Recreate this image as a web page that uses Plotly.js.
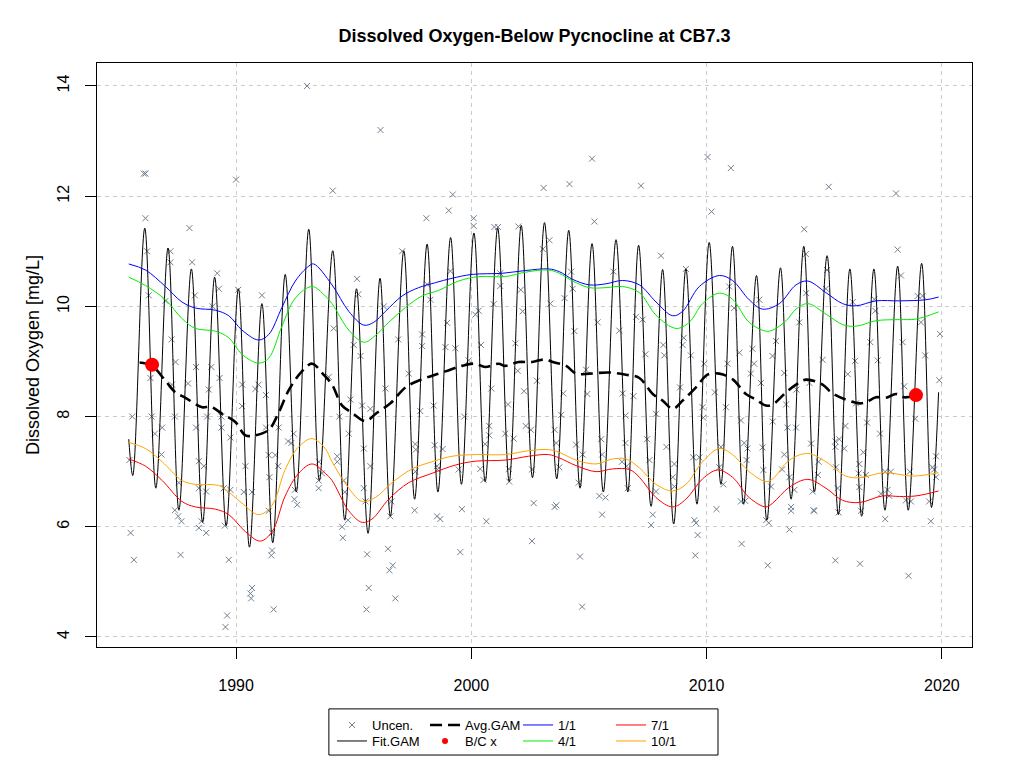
<!DOCTYPE html>
<html>
<head>
<meta charset="utf-8">
<script src="https://cdn.plot.ly/plotly-3.0.1.min.js"></script>
<style>
  body { margin: 0; background: #fff; }
  #chart { width: 1024px; height: 768px; }
</style>
</head>
<body>
<div id="chart"></div>
<script>
// Fit.GAM: seasonal extremes (spline drawn by plotly)
const fitYear = [1985.44, 1985.61, 1986.12, 1986.59, 1987.11, 1987.57, 1988.10, 1988.58, 1989.09, 1989.58,
  1990.10, 1990.57, 1991.10, 1991.56, 1992.09, 1992.56, 1993.09, 1993.54, 1994.11, 1994.62,
  1995.12, 1995.61, 1996.12, 1996.56, 1997.13, 1997.59, 1998.12, 1998.58, 1999.12, 1999.58,
  2000.11, 2000.59, 2001.12, 2001.61, 2002.12, 2002.60, 2003.11, 2003.63, 2004.14, 2004.62,
  2005.13, 2005.61, 2006.15, 2006.65, 2007.11, 2007.64, 2008.13, 2008.60, 2009.12, 2009.59,
  2010.11, 2010.61, 2011.10, 2011.57, 2012.12, 2012.56, 2013.14, 2013.59, 2014.13, 2014.58,
  2015.12, 2015.60, 2016.09, 2016.59, 2017.11, 2017.58, 2018.12, 2018.57, 2019.14, 2019.56, 2019.86];
const fitDO = [7.59, 6.93, 11.42, 6.70, 11.06, 6.30, 10.68, 6.08, 10.53, 6.02,
  10.32, 5.63, 10.05, 5.71, 10.58, 6.63, 11.40, 6.84, 11.01, 6.12,
  10.32, 5.88, 10.51, 6.19, 11.01, 6.50, 11.13, 6.63, 11.25, 6.77,
  11.33, 6.82, 11.42, 6.82, 11.47, 6.89, 11.52, 6.87, 11.38, 6.70,
  11.14, 6.63, 11.21, 6.63, 11.11, 6.37, 10.67, 6.05, 10.68, 6.41,
  11.16, 6.77, 11.09, 6.41, 10.56, 6.12, 10.70, 6.50, 11.09, 6.63,
  10.92, 6.22, 10.68, 6.19, 10.68, 6.30, 10.73, 6.30, 10.78, 6.35, 8.44];

const avgYear = [1985.90, 1986.43, 1987.00, 1987.42, 1987.85, 1988.56, 1988.91, 1989.41, 1989.97, 1990.40,
  1990.82, 1991.39, 1991.81, 1992.24, 1992.80, 1993.23, 1993.70, 1994.08, 1994.51, 1994.93,
  1995.50, 1995.99, 1996.56, 1997.20, 1997.91, 1998.40, 1998.90, 1999.60, 2000.17, 2000.59,
  2001.16, 2001.44, 2002.01, 2002.58, 2003.14, 2003.46, 2004.03, 2004.45, 2005.02, 2005.87,
  2006.57, 2007.14, 2007.71, 2008.13, 2008.56, 2008.98, 2009.55, 2010.04, 2010.54, 2011.10,
  2011.67, 2012.09, 2012.52, 2012.81, 2013.38, 2013.80, 2014.23, 2014.93, 2015.29, 2015.85,
  2016.49, 2016.77, 2017.20, 2017.62, 2018.05, 2018.40, 2018.90];
const avgDO = [8.98, 8.92, 8.65, 8.44, 8.34, 8.17, 8.18, 8.05, 7.90, 7.66,
  7.66, 7.76, 8.07, 8.48, 8.82, 8.96, 8.77, 8.58, 8.20, 8.07,
  7.92, 8.07, 8.24, 8.53, 8.68, 8.75, 8.82, 8.92, 8.96, 8.90,
  8.96, 8.92, 8.99, 8.99, 9.04, 8.99, 8.92, 8.78, 8.78, 8.80,
  8.76, 8.70, 8.41, 8.29, 8.14, 8.29, 8.53, 8.76, 8.78, 8.68,
  8.41, 8.31, 8.20, 8.22, 8.44, 8.58, 8.67, 8.58, 8.44, 8.32,
  8.24, 8.26, 8.35, 8.34, 8.41, 8.35, 8.39];

const jan1Year = [1985.44, 1986.15, 1987.00, 1987.70, 1988.27, 1989.12, 1989.69, 1990.25, 1990.96, 1991.39,
  1991.95, 1992.52, 1993.09, 1993.30, 1994.08, 1994.79, 1995.43, 1995.85, 1996.35, 1997.06,
  1997.76, 1998.47, 1999.18, 2000.03, 2001.30, 2002.29, 2003.28, 2003.74, 2004.31, 2005.02,
  2005.73, 2006.43, 2007.14, 2007.85, 2008.56, 2008.98, 2009.69, 2010.54, 2011.10, 2011.81,
  2012.38, 2013.09, 2013.80, 2014.30, 2015.07, 2015.78, 2016.35, 2017.20, 2018.19, 2019.32, 2019.86];
const jan1DO = [10.77, 10.66, 10.36, 10.08, 9.97, 9.93, 9.83, 9.57, 9.39, 9.49,
  9.98, 10.46, 10.73, 10.77, 10.39, 9.91, 9.66, 9.71, 9.91, 10.19,
  10.34, 10.43, 10.51, 10.58, 10.60, 10.65, 10.68, 10.63, 10.49, 10.39,
  10.41, 10.47, 10.39, 10.08, 9.83, 9.91, 10.36, 10.56, 10.47, 10.12,
  9.95, 10.05, 10.39, 10.46, 10.25, 10.05, 10.01, 10.10, 10.10, 10.12, 10.17];

const apr1Year = [1985.44, 1986.15, 1987.00, 1987.70, 1988.27, 1989.12, 1989.69, 1990.25, 1990.96, 1991.39,
  1991.95, 1992.52, 1993.23, 1993.79, 1994.08, 1994.79, 1995.43, 1995.92, 1996.49, 1997.20,
  1997.91, 1998.61, 1999.46, 2000.31, 2001.44, 2002.29, 2003.28, 2003.74, 2004.31, 2005.02,
  2005.73, 2006.43, 2007.14, 2007.85, 2008.70, 2009.26, 2009.83, 2010.54, 2011.10, 2011.81,
  2012.52, 2012.81, 2013.38, 2013.80, 2014.30, 2015.07, 2015.78, 2016.35, 2017.20, 2018.19, 2018.90, 2019.86];
const apr1DO = [10.53, 10.38, 10.12, 9.78, 9.60, 9.55, 9.43, 9.13, 8.97, 9.06,
  9.64, 10.15, 10.36, 10.19, 10.05, 9.57, 9.35, 9.47, 9.71, 9.98,
  10.19, 10.29, 10.46, 10.54, 10.54, 10.62, 10.66, 10.60, 10.46, 10.34,
  10.34, 10.36, 10.25, 9.84, 9.60, 9.71, 10.05, 10.24, 10.13, 9.71,
  9.55, 9.57, 9.74, 9.95, 10.05, 9.86, 9.67, 9.64, 9.74, 9.76, 9.77, 9.90];

const jul1Year = [1985.44, 1986.15, 1986.86, 1987.70, 1988.27, 1989.12, 1989.69, 1990.40, 1991.03, 1991.53,
  1992.09, 1992.66, 1993.23, 1993.79, 1994.08, 1994.79, 1995.36, 1995.78, 1996.49, 1997.34,
  1998.33, 1999.32, 2000.17, 2001.44, 2002.43, 2003.28, 2003.74, 2004.45, 2005.30, 2006.00,
  2006.72, 2007.14, 2007.85, 2008.56, 2009.12, 2009.83, 2010.47, 2011.10, 2011.81, 2012.52,
  2012.81, 2013.52, 2014.30, 2015.07, 2015.78, 2016.49, 2017.48, 2018.19, 2018.90, 2019.86];
const jul1DO = [7.23, 7.10, 6.84, 6.46, 6.36, 6.32, 6.22, 5.91, 5.74, 5.91,
  6.56, 6.97, 7.14, 6.97, 6.84, 6.29, 6.08, 6.14, 6.50, 6.80,
  6.97, 7.12, 7.19, 7.21, 7.28, 7.31, 7.25, 7.11, 7.00, 7.05,
  7.04, 6.90, 6.53, 6.36, 6.50, 6.87, 7.03, 6.90, 6.53, 6.36,
  6.43, 6.72, 6.86, 6.70, 6.48, 6.44, 6.56, 6.55, 6.56, 6.65];

const oct1Year = [1985.44, 1986.15, 1986.86, 1987.70, 1988.27, 1989.26, 1989.69, 1990.25, 1990.96, 1991.53,
  1992.09, 1992.66, 1993.23, 1993.79, 1994.08, 1994.79, 1995.36, 1995.92, 1996.63, 1997.48,
  1998.33, 1999.18, 2000.17, 2001.44, 2002.43, 2003.28, 2003.74, 2004.45, 2005.30, 2006.00,
  2006.57, 2007.14, 2007.85, 2008.56, 2009.12, 2009.83, 2010.54, 2011.10, 2011.81, 2012.52,
  2012.81, 2013.52, 2014.30, 2015.07, 2015.92, 2016.49, 2017.48, 2017.91, 2018.75, 2019.86];
const oct1DO = [7.53, 7.42, 7.18, 6.84, 6.77, 6.75, 6.63, 6.43, 6.22, 6.39,
  7.04, 7.45, 7.60, 7.42, 7.18, 6.70, 6.46, 6.53, 6.80, 7.05,
  7.18, 7.28, 7.31, 7.31, 7.38, 7.40, 7.35, 7.21, 7.14, 7.23,
  7.23, 7.07, 6.77, 6.65, 6.77, 7.18, 7.42, 7.31, 7.00, 6.82,
  6.87, 7.21, 7.33, 7.18, 6.92, 6.89, 6.98, 6.97, 6.92, 6.98];

// uncensored observations
const uncenYear = [
  1993.02, 1986.08, 1986.15, 1990.00, 1986.15, 1988.02, 1986.22, 1987.21, 1987.21, 1988.13,
  1989.20, 1986.29, 1989.27, 1990.09, 1991.10, 1987.00, 1988.25, 1989.00, 1987.26, 1987.43,
  1988.30, 1988.95, 1986.36, 1987.28, 1987.96, 1988.84, 1989.30, 1990.26, 1990.96, 1985.59,
  1986.41, 1987.40, 1988.77, 1989.38, 1990.26, 1990.82, 1991.27, 1988.30, 1986.86, 1989.38,
  1986.55, 1989.76, 1991.27, 1991.81, 1985.47, 1986.83, 1988.42, 1988.63, 1990.40, 1991.39,
  1991.67, 1991.79, 1992.21, 1992.45, 1992.35, 1991.42, 1987.57, 1988.42, 1988.73, 1989.76,
  1989.48, 1990.33, 1990.68, 1992.50, 1992.48, 1992.60, 1993.51, 1993.51, 1993.65, 1987.40,
  1987.54, 1987.68, 1988.53, 1988.42, 1988.73, 1989.52, 1991.39, 1991.53, 1985.52, 1985.66,
  1987.64, 1989.69, 1991.53, 1991.50, 1990.68, 1990.61, 1990.64, 1991.60, 1989.62, 1989.55,
  1996.14, 1994.11, 1999.21, 2003.07, 1999.04, 1998.09, 2000.10, 2000.10, 2000.98, 2001.13,
  2002.00, 1997.06, 1995.14, 1999.11, 2001.23, 2001.23, 2002.10, 1995.20, 1998.12, 1998.26,
  1996.28, 2000.31, 2000.17, 2000.95, 2002.18, 1994.15, 1995.00, 1995.29, 1996.89, 1997.91,
  1997.91, 1998.97, 1998.90, 1999.32, 2000.41, 2001.87, 1997.34, 1993.94, 1999.89, 2001.97,
  2002.79, 2000.85, 2002.24, 1996.35, 1994.86, 1995.36, 1995.71, 1998.40, 1997.83, 2001.56,
  1994.39, 1999.70, 1994.79, 2000.76, 2000.76, 2002.31, 2002.53, 2001.44, 2001.80, 1995.43,
  1995.71, 1997.62, 1997.64, 1998.44, 1998.78, 1994.30, 1994.30, 1993.52, 1997.62, 1998.54,
  1998.56, 1999.46, 2000.59, 2000.38, 2000.52, 2001.59, 2001.61, 2002.58, 1994.58, 1994.62,
  1995.43, 1995.50, 1996.60, 1996.56, 1997.59, 1998.54, 1998.68, 1999.60, 2002.65, 1994.76,
  1994.51, 1994.54, 2000.64, 1995.57, 1996.46, 1996.66, 1996.52, 1999.53, 2002.58, 1995.64,
  1996.77, 1995.54,
  2010.04, 2005.13, 2011.03, 2004.17, 2007.21, 2010.21, 2005.23, 2003.04, 2003.32, 2008.06,
  2009.12, 2004.24, 2004.31, 2006.04, 2003.96, 2003.36, 2010.96, 2011.17, 2005.37, 2004.38,
  2006.29, 2007.00, 2007.28, 2008.16, 2008.20, 2008.98, 2009.03, 2009.33, 2007.40, 2011.39,
  2011.95, 2012.02, 2011.88, 2010.89, 2009.90, 2004.88, 2003.91, 2004.93, 2006.43, 2006.89,
  2008.87, 2010.35, 2009.83, 2010.82, 2003.82, 2006.55, 2007.85, 2009.86, 2011.46, 2003.54,
  2003.61, 2005.52, 2005.56, 2007.47, 2006.55, 2008.29, 2011.60, 2011.74, 2011.70, 2004.45,
  2004.73, 2006.40, 2006.60, 2007.57, 2008.63, 2008.56, 2008.63, 2009.43, 2009.69, 2010.61,
  2010.54, 2010.71, 2003.74, 2004.56, 2005.44, 2005.70, 2006.65, 2007.85, 2009.48, 2009.55,
  2003.54, 2003.61, 2005.56, 2007.71, 2007.64, 2010.42, 2011.46, 2011.64, 2009.62, 2009.52,
  2011.49, 2004.62, 2004.71,
  2015.19, 2018.05, 2014.15, 2018.12, 2014.22, 2015.12, 2015.07, 2018.26, 2012.24, 2016.21,
  2017.13, 2017.17, 2014.23, 2018.97, 2019.18, 2019.11, 2013.94, 2019.92, 2012.95, 2016.96,
  2018.33, 2012.80, 2014.93, 2019.29, 2016.31, 2017.27, 2013.30, 2016.00, 2019.89, 2014.37,
  2012.31, 2018.40, 2013.82, 2013.38, 2016.35, 2012.81, 2018.87, 2013.44, 2013.80, 2015.90,
  2016.82, 2017.37, 2012.38, 2014.44, 2015.47, 2015.64, 2015.47, 2015.85, 2016.66, 2019.75,
  2013.30, 2013.21, 2014.76, 2014.73, 2015.50, 2016.49, 2016.46, 2016.77, 2017.59, 2017.83,
  2018.64, 2019.60, 2019.75, 2019.67, 2012.41, 2012.74, 2013.52, 2013.73, 2014.51, 2015.57,
  2016.49, 2017.41, 2017.69, 2017.76, 2018.47, 2018.68, 2019.46, 2013.59, 2013.59, 2014.54,
  2014.58, 2015.61, 2016.56, 2012.53, 2012.64, 2017.59, 2019.53, 2013.52, 2012.60, 2015.47,
  2016.52, 2018.58];
const uncenDO = [
  14.00, 12.41, 12.41, 12.30, 11.60, 11.42, 11.00, 11.00, 10.80, 10.80,
  10.60, 10.20, 10.32, 10.30, 10.20, 10.10, 10.20, 10.00, 9.40, 8.99,
  8.90, 8.90, 8.70, 8.58, 8.60, 8.49, 8.70, 8.58, 8.58, 8.00,
  8.00, 8.00, 8.00, 8.00, 8.19, 8.50, 8.39, 7.80, 7.80, 7.80,
  7.69, 7.62, 7.80, 7.80, 7.21, 7.31, 7.19, 7.10, 7.10, 7.30,
  7.30, 7.10, 7.55, 7.69, 7.52, 6.90, 6.80, 6.70, 6.64, 6.67,
  6.70, 6.63, 6.63, 6.67, 6.50, 6.40, 6.84, 6.70, 6.97, 6.30,
  6.19, 6.10, 6.10, 5.98, 5.89, 6.02, 6.29, 5.89, 5.89, 5.40,
  5.49, 5.40, 5.57, 5.48, 4.89, 4.79, 4.70, 4.50, 4.39, 4.18,
  13.20, 12.10, 12.03, 12.15, 11.74, 11.60, 11.60, 11.46, 11.44, 11.44,
  11.45, 11.00, 10.50, 10.64, 10.60, 10.37, 10.30, 10.22, 10.40, 10.12,
  10.00, 9.92, 9.85, 10.04, 9.91, 9.60, 9.30, 9.10, 9.40, 9.49,
  9.28, 9.70, 9.26, 9.24, 9.30, 9.33, 8.78, 8.72, 9.02, 8.83,
  8.65, 8.51, 8.46, 8.51, 8.31, 8.20, 8.14, 8.20, 8.10, 8.22,
  8.00, 8.00, 7.69, 7.83, 7.66, 7.83, 7.76, 7.69, 7.60, 7.42,
  7.10, 7.50, 7.40, 7.48, 7.41, 7.28, 7.18, 7.18, 7.00, 7.10,
  7.04, 7.04, 7.50, 7.05, 6.85, 7.05, 6.82, 7.04, 6.84, 6.63,
  6.70, 6.46, 6.46, 6.19, 6.30, 6.19, 6.14, 6.32, 6.43, 6.12,
  6.00, 5.80, 6.10, 5.50, 5.60, 5.30, 5.21, 5.54, 5.74, 4.89,
  4.70, 4.50,
  12.71, 12.68, 12.51, 12.22, 12.19, 11.72, 11.54, 11.04, 11.20, 10.92,
  10.68, 10.63, 10.32, 10.63, 10.15, 10.05, 10.36, 9.97, 9.71, 9.55,
  9.56, 9.81, 9.76, 9.30, 9.11, 9.30, 9.43, 9.11, 9.13, 9.16,
  9.23, 8.96, 8.78, 8.96, 8.96, 8.85, 8.42, 8.41, 8.42, 8.37,
  8.53, 8.44, 8.17, 8.17, 8.03, 8.02, 8.05, 7.98, 7.93, 7.76,
  7.52, 7.59, 7.31, 7.59, 7.52, 7.45, 7.52, 7.42, 7.21, 7.49,
  7.31, 7.18, 7.10, 7.21, 7.14, 6.90, 6.73, 7.26, 7.26, 7.45,
  7.08, 6.77, 7.08, 6.80, 6.56, 6.53, 6.70, 6.64, 6.12, 6.07,
  6.36, 6.39, 6.22, 6.22, 6.03, 6.32, 6.46, 6.47, 5.85, 5.48,
  5.69, 5.46, 4.55,
  12.17, 12.05, 11.40, 11.03, 10.95, 10.66, 10.32, 10.56, 10.12, 10.08,
  10.13, 9.92, 10.24, 10.19, 10.19, 9.71, 9.71, 9.50, 9.37, 9.35,
  9.35, 9.10, 9.03, 9.11, 9.01, 9.02, 8.79, 8.77, 8.66, 8.61,
  8.61, 8.55, 8.49, 8.22, 8.24, 7.91, 7.96, 7.80, 7.80, 7.83,
  7.89, 7.69, 7.44, 7.51, 7.55, 7.59, 7.45, 7.42, 7.35, 7.28,
  7.31, 7.04, 7.18, 6.94, 7.08, 7.14, 6.97, 6.94, 7.00, 7.00,
  7.00, 7.08, 6.90, 7.04, 7.03, 6.73, 6.90, 6.67, 6.64, 6.70,
  6.72, 6.60, 6.67, 6.56, 6.48, 6.46, 6.46, 6.36, 6.29, 6.30,
  6.29, 6.26, 6.29, 6.12, 6.07, 6.14, 6.10, 5.95, 5.30, 5.39,
  5.33, 5.11];

const bcYear = [1986.43, 2018.90];
const bcDO = [8.94, 8.39];

const FONT = 'Liberation Sans, Arial, sans-serif';

const traces = [
  {
    x: uncenYear, y: uncenDO, type: 'scatter', mode: 'markers', name: 'Uncen.',
    marker: { symbol: 'x-thin', size: 6, color: '#708090', line: { color: '#708090', width: 1 } },
    legend: 'legend', legendrank: 1
  },
  {
    x: fitYear, y: fitDO, type: 'scatter', mode: 'lines', name: 'Fit.GAM',
    line: { color: '#000', width: 1, shape: 'spline' },
    legend: 'legend2', legendrank: 1
  },
  {
    x: avgYear, y: avgDO, type: 'scatter', mode: 'lines', name: 'Avg.GAM',
    line: { color: '#000', width: 2.6, dash: '12px,6px', shape: 'spline' },
    legend: 'legend', legendrank: 2
  },
  {
    x: jan1Year, y: jan1DO, type: 'scatter', mode: 'lines', name: '1/1',
    line: { color: '#0000ff', width: 1, shape: 'spline' },
    legend: 'legend', legendrank: 3
  },
  {
    x: apr1Year, y: apr1DO, type: 'scatter', mode: 'lines', name: '4/1',
    line: { color: '#00ee00', width: 1, shape: 'spline' },
    legend: 'legend2', legendrank: 3
  },
  {
    x: jul1Year, y: jul1DO, type: 'scatter', mode: 'lines', name: '7/1',
    line: { color: '#ff0000', width: 1, shape: 'spline' },
    legend: 'legend', legendrank: 4
  },
  {
    x: oct1Year, y: oct1DO, type: 'scatter', mode: 'lines', name: '10/1',
    line: { color: '#ffa500', width: 1, shape: 'spline' },
    legend: 'legend2', legendrank: 4
  },
  {
    x: bcYear, y: bcDO, type: 'scatter', mode: 'markers', name: 'B/C x',
    marker: { color: '#ff0000', size: 14 }, showlegend: false
  },
  {
    // legend-only entry with the small dot
    x: [null], y: [null], type: 'scatter', mode: 'markers', name: 'B/C x',
    marker: { color: '#ff0000', size: 6 },
    legend: 'legend2', legendrank: 2
  }
];

const legendBase = {
  orientation: 'h', xanchor: 'left', yanchor: 'middle',
  entrywidth: 48, entrywidthmode: 'pixels',
  itemwidth: 30, bgcolor: 'rgba(0,0,0,0)', borderwidth: 0,
  font: { family: FONT, size: 13, color: '#000' }
};

const axisBase = {
  ticks: 'outside', ticklen: 11, tickcolor: '#000', tickwidth: 1,
  showline: true, mirror: true, linecolor: '#000', linewidth: 1,
  showgrid: true, gridcolor: '#cccccc', griddash: '4px,4px', gridwidth: 1,
  zeroline: false, automargin: false,
  tickfont: { family: FONT, size: 16, color: '#000' }
};

const layout = {
  width: 1024, height: 768,
  margin: { l: 97, r: 52, t: 63, b: 121 },
  paper_bgcolor: '#fff', plot_bgcolor: '#fff',
  font: { family: FONT, size: 13, color: '#000' },
  title: {
    text: '<b>Dissolved Oxygen-Below Pycnocline at CB7.3</b>',
    font: { family: FONT, size: 18, color: '#000' },
    xref: 'paper', x: 0.5, xanchor: 'center',
    yref: 'container', y: 0.954, yanchor: 'middle'
  },
  xaxis: Object.assign({}, axisBase, {
    range: [1984.09, 2021.28], tick0: 1990, dtick: 10,
    ticklabelstandoff: 13
  }),
  yaxis: Object.assign({}, axisBase, {
    range: [3.818, 14.417], tick0: 4, dtick: 2, tickangle: -90,
    ticklabelstandoff: 10,
    title: { text: 'Dissolved Oxygen [mg/L]', font: { family: FONT, size: 18, color: '#000' }, standoff: 10 }
  }),
  legend: Object.assign({}, legendBase, { x: 0.2686, y: -0.1336 }),
  legend2: Object.assign({}, legendBase, { x: 0.2686, y: -0.161 }),
  shapes: [
    {
      type: 'rect', xref: 'paper', yref: 'paper',
      x0: 0.265, x1: 0.7097, y0: -0.185, y1: -0.106,
      line: { color: '#000', width: 1 }, fillcolor: 'rgba(0,0,0,0)'
    }
  ],
  showlegend: true
};

Plotly.newPlot('chart', traces, layout, { displayModeBar: false, responsive: false });
</script>
</body>
</html>
